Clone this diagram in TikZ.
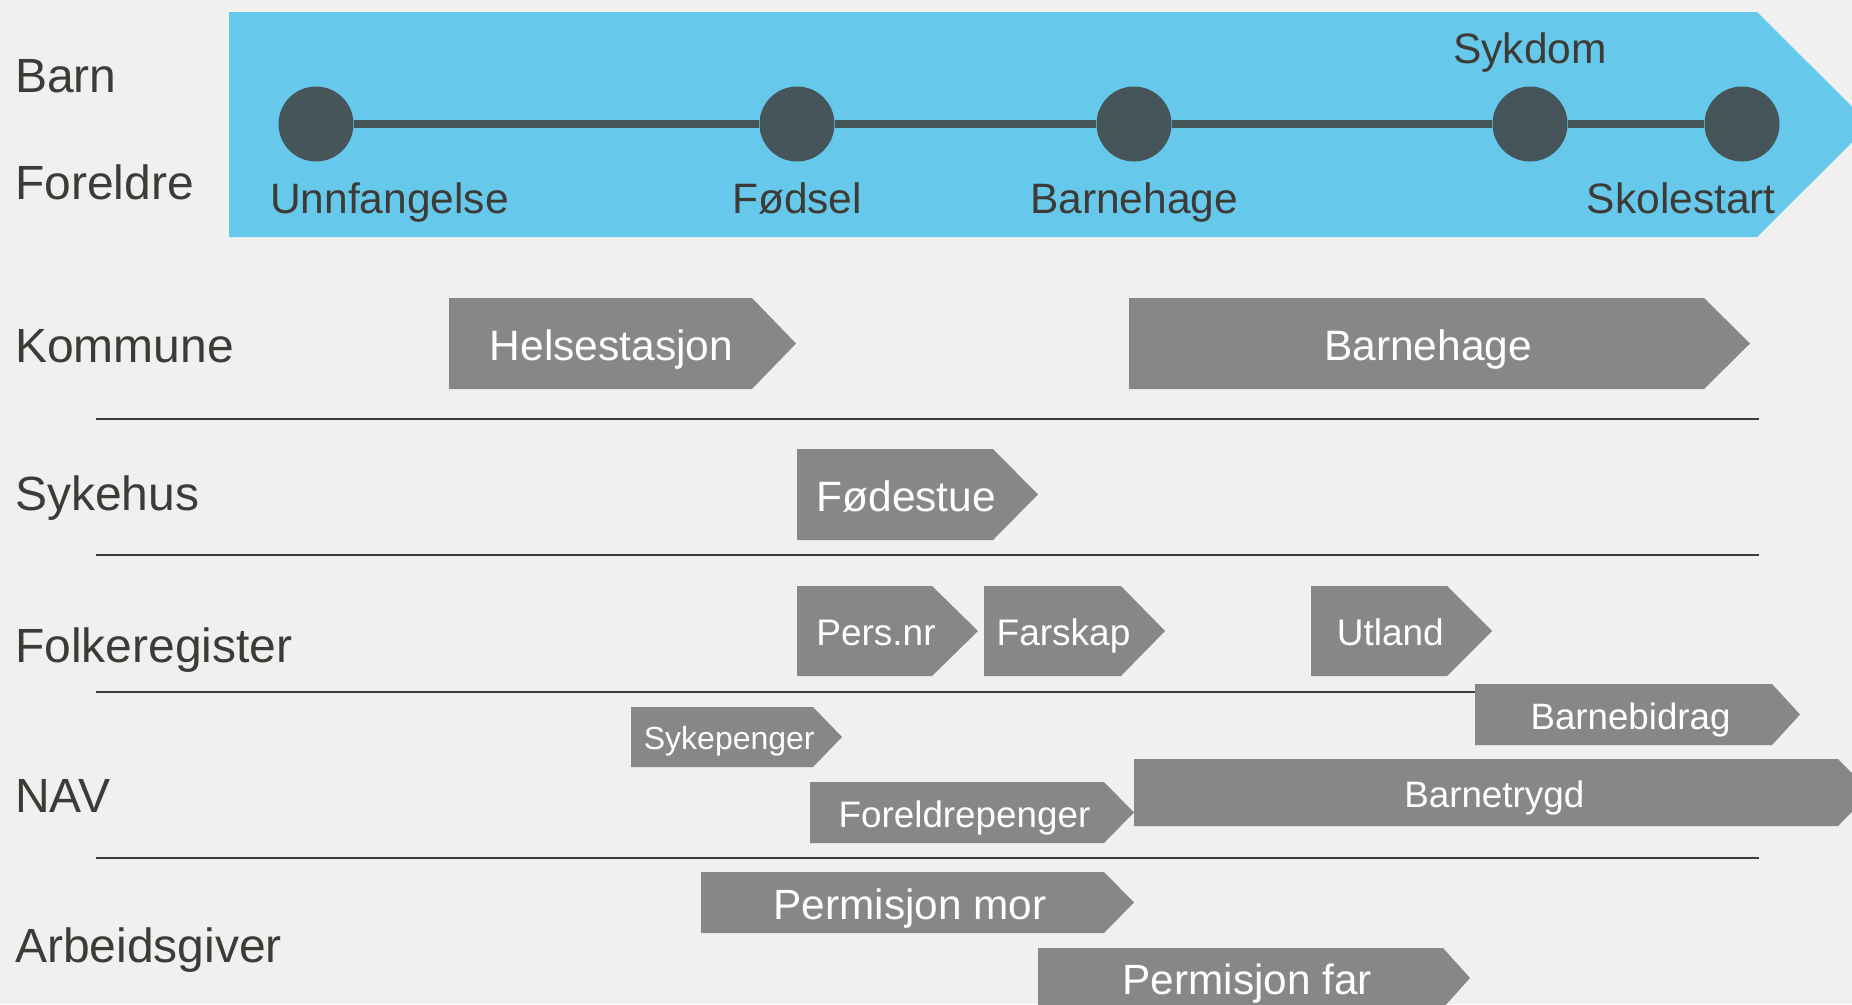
\documentclass[tikz,border=0pt]{standalone}
\usepackage{fontspec}
\setmainfont{Liberation Sans}

\definecolor{bakgrunn}{HTML}{F0F0F0}
\definecolor{himmel}{HTML}{66C9EC}
\definecolor{skifer}{HTML}{455559}
\definecolor{tekstgraa}{HTML}{3E3A36}
\definecolor{pilgraa}{HTML}{878787}

\tikzset{
  etikett/.style={anchor=base west, inner sep=0pt, text=tekstgraa, font=\fontsize{48}{48}\selectfont},
  hendelse/.style={anchor=base, inner sep=0pt, text=tekstgraa, font=\fontsize{42.5}{42.5}\selectfont},
  milepel/.style={circle, fill=skifer, minimum size=75pt, inner sep=0pt},
  skille/.style={draw=tekstgraa, line width=2.5pt},
  piltekst/.style={anchor=base, inner sep=0pt, text=white},
}

% #1 navn, #2 venstre, #3 slutt rektangel, #4 spiss, #5 topp, #6 bunn, #7 skriftstr., #8 tekst
\newcommand{\pil}[8]{%
  \fill[pilgraa] (#2,#5) -- (#3,#5) -- (#4,{(#5+#6)/2}) -- (#3,#6) -- (#2,#6) -- cycle;
  \node[piltekst, font=\fontsize{#7}{#7}\selectfont] (#1) at ({#2/2+(#3+#4)/4},{(#5+#6)/2+0.358*#7+1.5}) {#8};
}

\begin{document}
\begin{tikzpicture}[x=1pt, y=-1pt]
  \useasboundingbox (0,0) rectangle (1852,1004);
  \clip (0,0) rectangle (1852,1004);
  \fill[bakgrunn] (0,0) rectangle (1852,1004);

  % tidslinje
  \fill[himmel] (229,12) -- (1757,12) -- (1870,124.5) -- (1757,237) -- (229,237) -- cycle;
  \foreach \navn/\x in {unnf/316, fodsel/797, bhage/1134, sykdom/1530, skole/1742} {
      \node[milepel] (\navn) at (\x,124) {};
    }
  \draw[skifer, line width=8pt] (unnf) -- (fodsel) -- (bhage) -- (sykdom) -- (skole);
  \node[hendelse, anchor=base west] (tUnnf) at (270,213) {Unnfangelse};
  \node[hendelse] (tFodsel) at (797,213) {Fødsel};
  \node[hendelse] (tBhage) at (1134,213) {Barnehage};
  \node[hendelse] (tSykdom) at (1530,63) {Sykdom};
  \node[hendelse, anchor=base east] (tSkole) at (1776,213) {Skolestart};

  % rader
  \foreach \navn/\y/\tekst in {barn/92/Barn, foreldre/199/Foreldre, kommune/362/Kommune,
      sykehus/510/Sykehus, folkereg/662/Folkeregister, nav/812/NAV, arbeid/962/Arbeidsgiver} {
      \node[etikett] (\navn) at (15,\y) {\tekst};
    }
  \foreach \y in {419, 555, 692, 858} {
      \draw[skille] (96,\y) -- (1759,\y);
    }

  % tjenester
  \pil{helse}{449}{752}{796}{298}{389}{42.5}{Helsestasjon}
  \pil{kbhage}{1129}{1704}{1750}{298}{389}{42.5}{Barnehage}
  \pil{fodestue}{797}{993}{1038}{449}{540}{42.5}{Fødestue}
  \pil{persnr}{797}{932}{978}{586}{676}{37}{Pers.nr}
  \pil{farskap}{984}{1121}{1165}{586}{676}{37}{Farskap}
  \pil{utland}{1311}{1447}{1492}{586}{676}{37}{Utland}
  \pil{bidrag}{1475}{1772}{1800}{684}{745}{36.7}{Barnebidrag}
  \pil{sykepenger}{631}{813}{842}{707}{767}{32}{Sykepenger}
  \pil{fpenger}{810}{1104}{1134}{782}{843}{36.8}{Foreldrepenger}
  \pil{btrygd}{1134}{1838}{1871}{759}{826}{36.8}{Barnetrygd}
  \pil{permmor}{701}{1104}{1134}{872}{933}{42.3}{Permisjon mor}
  \pil{permfar}{1038}{1443}{1470}{948}{1008}{42.3}{Permisjon far}
\end{tikzpicture}
\end{document}
